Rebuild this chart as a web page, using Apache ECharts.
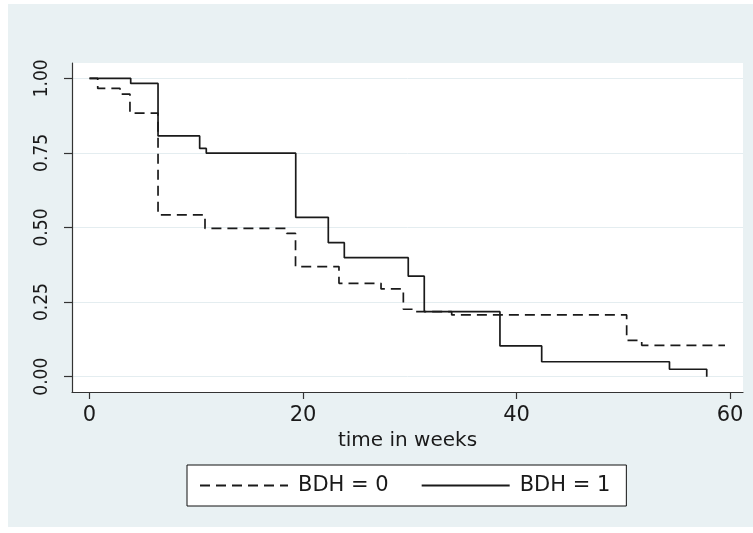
<!DOCTYPE html>
<html><head><meta charset="utf-8">
<script src="https://cdn.jsdelivr.net/npm/echarts@6/dist/echarts.min.js"></script>
<style>html,body{margin:0;padding:0;background:#fff}#c{width:753px;height:533px}</style>
</head><body><div id="c"></div>
<script>
const seriesNames = ['BDH = 0', 'BDH = 1'];
const timeBDH0 = [0, 0.77, 2.86, 3.79, 6.42, 10.82, 18.47, 19.30, 23.37, 27.31, 29.40, 30.60, 33.93, 50.32, 51.73, 59.53];
const survBDH0 = [1.0, 0.966, 0.947, 0.883, 0.542, 0.497, 0.480, 0.369, 0.313, 0.294, 0.226, 0.218, 0.207, 0.122, 0.105, 0.105];
const timeBDH1 = [0, 3.86, 6.42, 10.32, 10.94, 19.32, 22.37, 23.87, 29.86, 31.36, 38.45, 42.36, 54.33, 57.82];
const survBDH1 = [1.0, 0.983, 0.807, 0.765, 0.749, 0.534, 0.449, 0.399, 0.337, 0.218, 0.103, 0.050, 0.025, 0.0];
const xTicks = [0, 20, 40, 60];
const yTicks = [0, 0.25, 0.5, 0.75, 1];
const xTitle = 'time in weeks';

const pairs = (t, s) => t.map((v, i) => [v, s[i]]);
const wideFont = "'DejaVu Sans', 'Liberation Sans', sans-serif";
const narrowFont = "'Liberation Sans Narrow', 'DejaVu Sans Condensed', 'Liberation Sans', sans-serif";
const ink = '#1a1a1a';

const chart = echarts.init(document.getElementById('c'), null, {renderer: 'canvas'});
chart.setOption({
  animation: false,
  backgroundColor: '#e9f1f3',
  graphic: [
    {type: 'rect', shape: {x: 0, y: 0, width: 753, height: 4}, style: {fill: '#fff'}, silent: true},
    {type: 'rect', shape: {x: 0, y: 0, width: 8, height: 533}, style: {fill: '#fff'}, silent: true},
    {type: 'rect', shape: {x: 0, y: 527, width: 753, height: 6}, style: {fill: '#fff'}, silent: true}
  ],
  grid: {left: 72, top: 63, right: 10, bottom: 141, show: true, backgroundColor: '#ffffff', borderWidth: 0},
  xAxis: {
    type: 'value', min: -1.639, max: 61.218,
    name: xTitle, nameLocation: 'middle', nameGap: 33,
    nameTextStyle: {fontFamily: wideFont, fontSize: 20, color: ink},
    axisLine: {show: true, onZero: false, lineStyle: {color: '#333', width: 1.2}},
    axisTick: {show: true, length: 7, customValues: xTicks, lineStyle: {color: '#333', width: 1.2}},
    axisLabel: {customValues: xTicks, margin: 13, fontFamily: wideFont, fontSize: 21, color: ink,
      formatter: v => String(v)},
    splitLine: {show: false}
  },
  yAxis: {
    type: 'value', min: -0.0513, max: 1.0513,
    axisLine: {show: true, onZero: false, lineStyle: {color: '#333', width: 1.2}},
    axisTick: {show: true, length: 8, customValues: yTicks, lineStyle: {color: '#333', width: 1.2}},
    axisLabel: {customValues: yTicks, rotate: 90, margin: 20, fontFamily: narrowFont, fontSize: 19, color: ink,
      formatter: v => v.toFixed(2)},
    splitLine: {show: true, lineStyle: {color: '#e4edf0', width: 1}}
  },
  legend: {
    left: 187, top: 465,
    orient: 'horizontal',
    data: seriesNames,
    backgroundColor: '#fff', borderColor: '#111', borderWidth: 1,
    padding: [10, 16, 10, 12],
    itemWidth: 88, itemHeight: 14, itemGap: 32,
    itemStyle: {color: 'rgba(0,0,0,0)', borderWidth: 0, opacity: 0},
    textStyle: {fontFamily: wideFont, fontSize: 21, color: ink, padding: [0, 0, 0, 5]}
  },
  series: [
    {
      name: seriesNames[0], type: 'line', step: 'end', symbol: 'none',
      data: pairs(timeBDH0, survBDH0),
      lineStyle: {color: ink, width: 1.7, type: [10, 6]},
      itemStyle: {color: ink}
    },
    {
      name: seriesNames[1], type: 'line', step: 'end', symbol: 'none',
      data: pairs(timeBDH1, survBDH1),
      lineStyle: {color: ink, width: 1.7, type: 'solid'},
      itemStyle: {color: ink}
    }
  ]
});
</script>
</body></html>
